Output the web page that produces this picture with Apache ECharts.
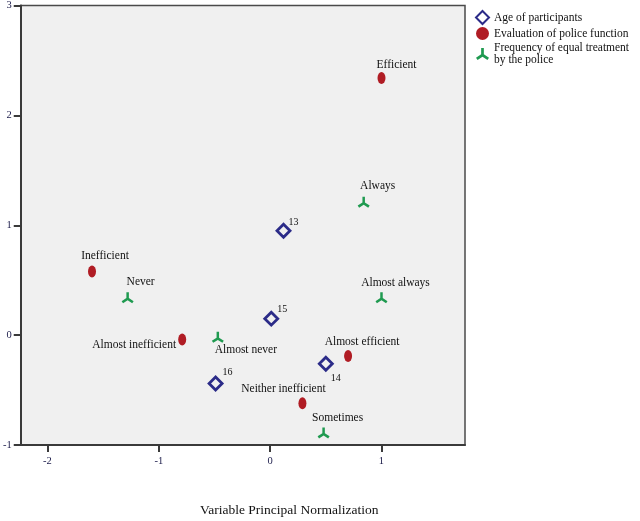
<!DOCTYPE html>
<html>
<head>
<meta charset="utf-8">
<script src="https://cdn.jsdelivr.net/npm/echarts@6/dist/echarts.min.js"></script>
<style>
  html, body { margin: 0; padding: 0; background: #fff; }
  #chart { width: 640px; height: 521px; }
</style>
</head>
<body>
<div id="chart"></div>
<script>
// category points
const ageNames = ['13', '15', '14', '16'];
const ageX = [0.12, 0.01, 0.50, -0.49];
const ageY = [0.95, 0.15, -0.26, -0.44];

const evalNames = ['Efficient', 'Inefficient', 'Almost inefficient', 'Almost efficient', 'Neither inefficient'];
const evalX = [1.00, -1.60, -0.79, 0.70, 0.29];
const evalY = [2.34, 0.58, -0.04, -0.19, -0.62];

const freqNames = ['Always', 'Almost always', 'Never', 'Almost never', 'Sometimes'];
const freqX = [0.84, 1.00, -1.28, -0.47, 0.48];
const freqY = [1.21, 0.34, 0.34, -0.02, -0.89];

const xTicks = [-2, -1, 0, 1];

// label offsets (px, from marker centre)
const labelOffset = {
  '13': [10, -8], '15': [11, -9], '14': [10, 15], '16': [12, -11],
  'Efficient': [15, -13], 'Inefficient': [13, -15], 'Almost inefficient': [-48, 5],
  'Almost efficient': [14, -14], 'Neither inefficient': [-19, -14],
  'Always': [14, -16], 'Almost always': [14, -15], 'Never': [13, -16],
  'Almost never': [28, 13], 'Sometimes': [14, -15]
};

const serif = '"Liberation Serif", "DejaVu Serif", serif';

function points(names, xs, ys) {
  return names.map((n, i) => ({
    name: n,
    value: [xs[i], ys[i]],
    label: {
      show: true,
      position: 'inside',
      offset: labelOffset[n],
      formatter: '{b}',
      fontFamily: serif,
      fontSize: n.length <= 2 ? 10 : 11.5,
      color: '#111'
    }
  }));
}

const tripod = 'path://M3.8,0 L6.2,0 L6.2,5.6 L10.8,8.6 L9.4,10.6 L5,7.8 L0.6,10.6 L-0.8,8.6 L3.8,5.6 Z';

const chart = echarts.init(document.getElementById('chart'));

chart.setOption({
  animation: false,
  backgroundColor: '#fff',
  grid: {
    left: 19, right: 175, top: 4, bottom: 76,
    show: true,
    backgroundColor: '#f0f0f0',
    borderColor: '#4a4a4a',
    borderWidth: 1.5
  },
  legend: {
    orient: 'vertical',
    left: 470,
    top: 5,
    itemWidth: 13,
    itemHeight: 13,
    itemGap: 2,
    textStyle: { fontFamily: serif, fontSize: 11.5, color: '#111', lineHeight: 12 },
    formatter: function (name) {
      return name === 'Frequency of equal treatment by the police'
        ? 'Frequency of equal treatment\nby the police' : name;
    },
    data: ['Age of participants', 'Evaluation of police function', 'Frequency of equal treatment by the police']
  },
  xAxis: {
    type: 'value',
    min: -2.24,
    max: 1.75,
    splitLine: { show: false },
    axisLine: { onZero: false, lineStyle: { color: '#3a3a3a', width: 2 } },
    axisTick: { show: true, length: 7, customValues: xTicks, lineStyle: { color: '#3a3a3a', width: 2 } },
    axisLabel: { customValues: xTicks, fontFamily: serif, fontSize: 10.5, color: '#1c1c4a', margin: 11 }
  },
  yAxis: {
    type: 'value',
    min: -1,
    max: 3,
    interval: 1,
    splitLine: { show: false },
    axisLine: { onZero: false, lineStyle: { color: '#3a3a3a', width: 2 } },
    axisTick: { show: true, length: 7, lineStyle: { color: '#3a3a3a', width: 2 } },
    axisLabel: { fontFamily: serif, fontSize: 10.5, color: '#1c1c4a', margin: 9, showMinLabel: true, showMaxLabel: true }
  },
  series: [
    {
      name: 'Age of participants',
      type: 'scatter',
      symbol: 'diamond',
      symbolSize: 13,
      itemStyle: { color: 'rgba(255,255,255,0)', borderColor: '#2b2b88', borderWidth: 2.8, opacity: 1 },
      data: points(ageNames, ageX, ageY)
    },
    {
      name: 'Evaluation of police function',
      type: 'scatter',
      symbol: 'circle',
      symbolSize: [8, 12],
      itemStyle: { color: '#b01c24', opacity: 1 },
      data: points(evalNames, evalX, evalY)
    },
    {
      name: 'Frequency of equal treatment by the police',
      type: 'scatter',
      symbol: tripod,
      symbolSize: [12, 11],
      itemStyle: { color: '#1f9a50', opacity: 1 },
      data: points(freqNames, freqX, freqY)
    }
  ],
  graphic: [{
    type: 'text',
    left: 200,
    top: 503,
    style: { text: 'Variable Principal Normalization', font: '13.5px ' + serif, fill: '#111' }
  }]
});
</script>
</body>
</html>
